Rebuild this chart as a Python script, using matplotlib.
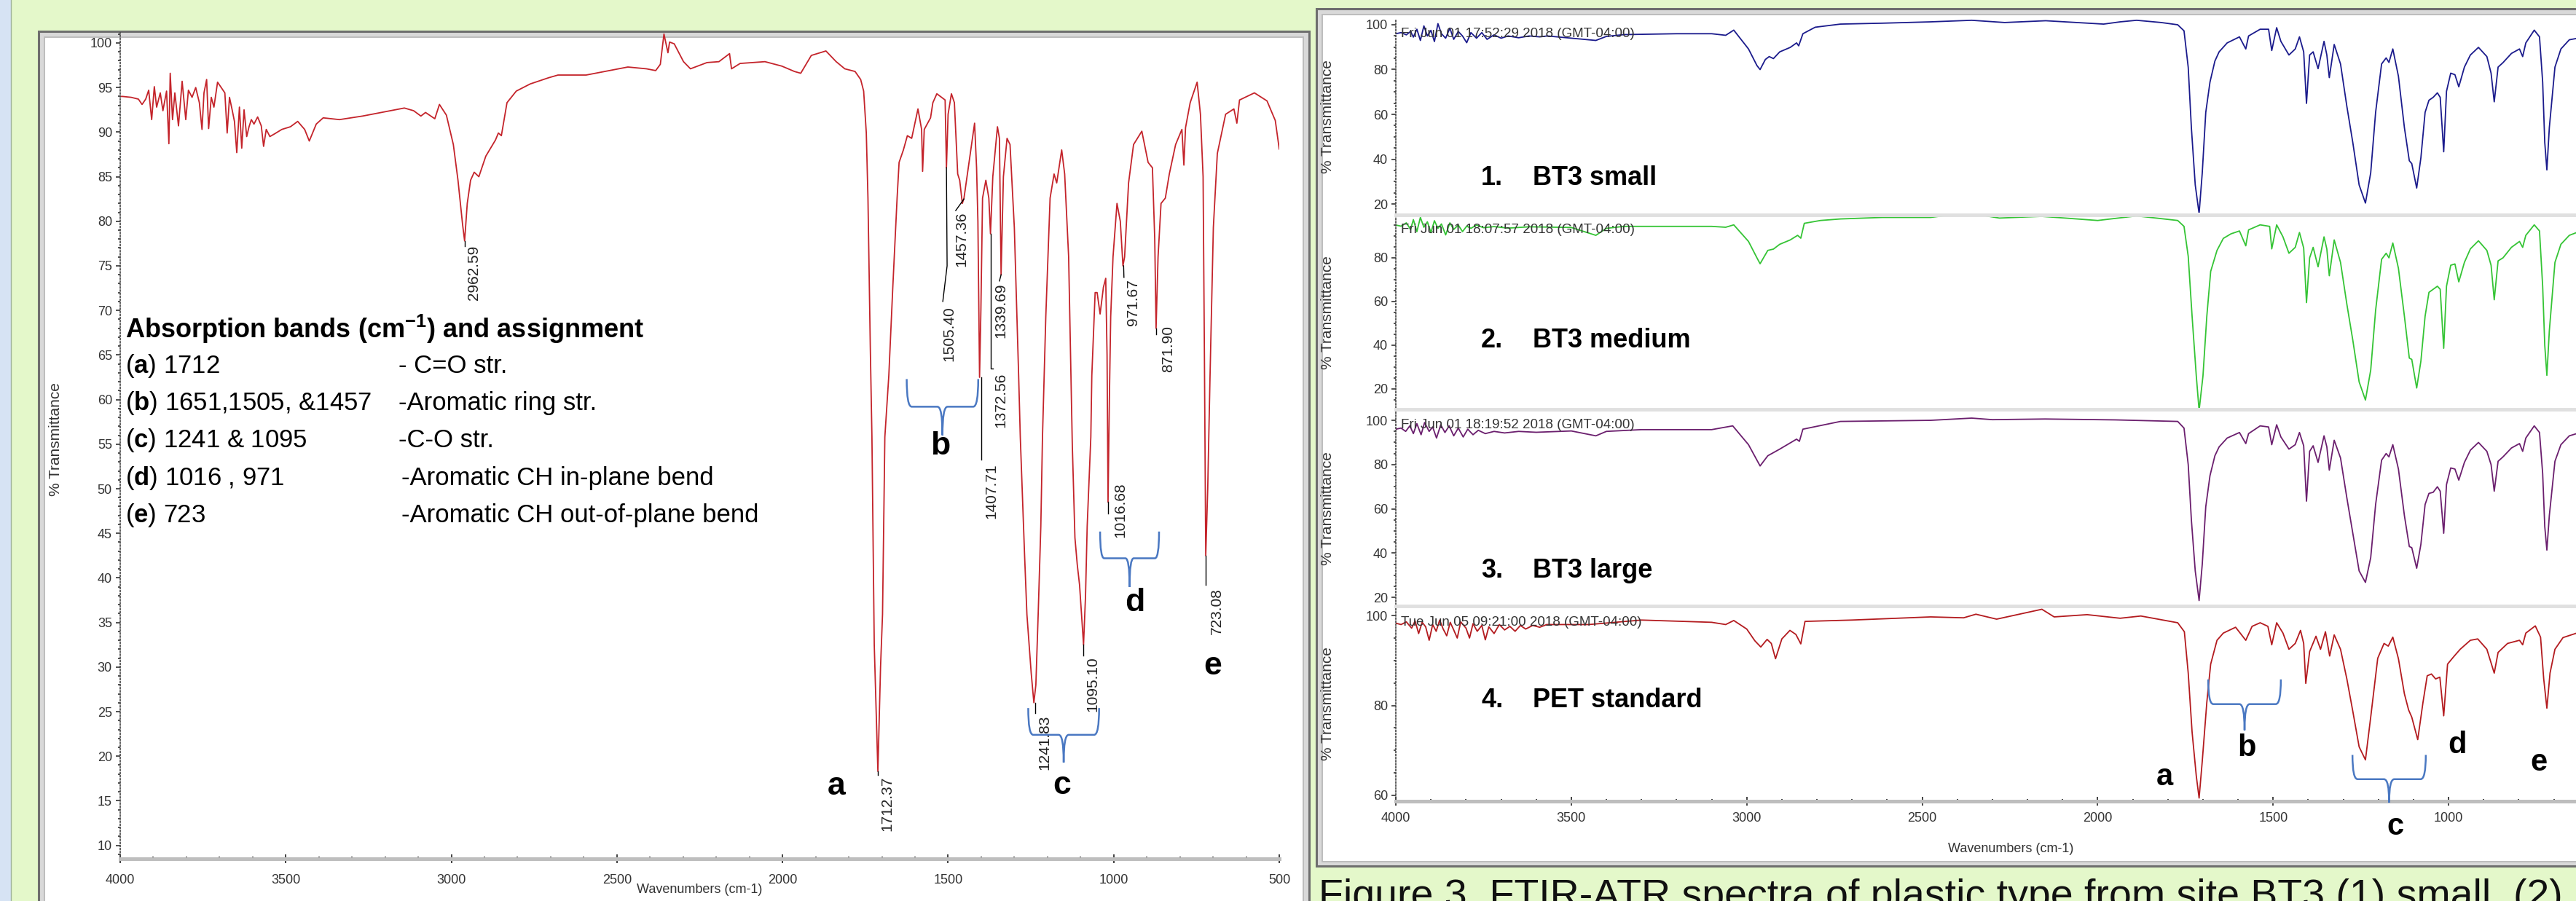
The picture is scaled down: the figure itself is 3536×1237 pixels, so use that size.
import matplotlib.pyplot as plt
from matplotlib.patches import Rectangle, PathPatch
from matplotlib.path import Path
from matplotlib.lines import Line2D
from matplotlib.ticker import MultipleLocator, FixedLocator

W, H = 3537, 1237

# ---------------- data ----------------
# left panel: PET spectrum with peak picks
left_wn = [4000, 3993, 3967, 3945, 3934, 3923, 3914, 3905, 3897, 3890, 3879, 3871, 3860, 3853, 3849,
           3842, 3835, 3824, 3813, 3802, 3794, 3783, 3772, 3761, 3753, 3747, 3739, 3733, 3725, 3717,
           3706, 3695, 3684, 3677, 3670, 3662, 3655, 3648, 3640, 3633, 3626, 3618, 3611, 3604, 3596,
           3585, 3574, 3567, 3559, 3548, 3534, 3512, 3486, 3464, 3443, 3429, 3408, 3387, 3338, 3268,
           3198, 3142, 3114, 3092, 3078, 3050, 3036, 3015, 2994, 2980, 2966, 2960, 2952, 2942, 2931,
           2917, 2896, 2867, 2858, 2849, 2832, 2804, 2762, 2706, 2678, 2593, 2537, 2467, 2411, 2383,
           2369, 2358, 2346, 2341, 2327, 2299, 2278, 2228, 2192, 2160, 2154, 2128, 2053, 2002, 1964,
           1945, 1913, 1869, 1838, 1812, 1781, 1764, 1755, 1747, 1742, 1735, 1730, 1723, 1712, 1704,
           1698, 1691, 1679, 1667, 1654, 1648, 1635, 1623, 1610, 1591, 1580, 1577, 1572, 1553, 1546,
           1534, 1509, 1505, 1500, 1490, 1481, 1471, 1465, 1457, 1452, 1439, 1420, 1414, 1410, 1405,
           1401, 1396, 1386, 1377, 1372, 1365, 1351, 1345, 1340, 1333, 1322, 1313, 1300, 1287, 1282,
           1269, 1262, 1249, 1241, 1235, 1228, 1220, 1215, 1205, 1192, 1180, 1172, 1165, 1157, 1148,
           1136, 1125, 1117, 1110, 1103, 1097, 1091, 1085, 1080, 1069, 1066, 1056, 1050, 1041, 1031,
           1024, 1020, 1017, 1013, 1009, 1002, 990, 980, 972, 967, 955, 940, 915, 896, 883,
           876, 872, 866, 857, 844, 832, 813, 794, 788, 783, 769, 748, 738, 730, 726,
           722, 716, 709, 699, 687, 662, 637, 628, 620, 575, 537, 512, 500]
left_T = [94.0, 94.0, 93.9, 93.7, 93.1, 93.7, 94.7, 91.4, 95.1, 92.8, 94.4, 92.4, 94.6, 88.7, 96.6,
          91.4, 94.4, 90.7, 95.7, 91.4, 94.7, 93.9, 95.0, 93.3, 90.3, 94.4, 95.9, 90.4, 93.9, 92.8,
          95.6, 95.0, 94.4, 89.9, 93.9, 92.5, 91.2, 87.7, 92.8, 88.2, 92.5, 89.5, 90.6, 91.4, 90.9,
          91.7, 90.7, 88.4, 90.3, 89.5, 89.8, 90.3, 90.6, 91.2, 90.3, 89.0, 90.9, 91.6, 91.4, 91.8,
          92.3, 92.7, 92.4, 91.8, 92.2, 91.5, 93.1, 91.9, 88.6, 84.6, 79.6, 77.8, 82.0, 84.6, 85.5,
          85.0, 87.3, 89.1, 89.9, 89.6, 93.3, 94.6, 95.4, 96.1, 96.4, 96.4, 96.8, 97.3, 97.1, 96.9,
          97.6, 101.0, 98.9, 100.1, 99.9, 97.9, 97.1, 97.8, 97.9, 98.8, 97.1, 97.7, 97.9, 97.4, 96.8,
          96.6, 98.6, 99.1, 97.9, 97.1, 96.8, 95.9, 94.6, 89.9, 82.6, 66.0, 55.8, 32.5, 18.3, 30.0,
          35.9, 55.8, 62.7, 72.6, 82.6, 86.6, 88.0, 89.6, 89.3, 92.6, 90.3, 85.6, 90.3, 91.6, 93.3,
          94.3, 93.6, 86.0, 92.0, 94.3, 93.3, 85.3, 84.6, 82.0, 82.6, 86.0, 91.0, 86.0, 80.0, 62.5,
          70.0, 82.6, 84.6, 82.6, 78.6, 85.0, 90.6, 89.3, 74.0, 85.0, 89.3, 88.6, 79.3, 62.7, 55.8,
          42.5, 35.9, 29.3, 26.0, 28.0, 35.9, 45.8, 55.8, 69.3, 82.6, 85.3, 84.3, 86.0, 88.0, 85.3,
          76.0, 55.0, 44.5, 41.5, 39.2, 35.9, 32.5, 38.0, 45.8, 55.8, 62.7, 72.0, 72.0, 69.6, 72.6,
          73.6, 65.0, 48.5, 60.0, 69.3, 76.0, 82.0, 80.0, 75.0, 76.0, 84.3, 88.6, 90.1, 86.6, 86.0,
          78.0, 68.0, 76.0, 82.0, 82.6, 85.3, 88.6, 90.3, 86.3, 90.5, 93.3, 95.6, 92.0, 85.0, 65.0,
          42.5, 50.0, 62.7, 79.3, 87.6, 92.0, 92.6, 91.0, 93.6, 94.4, 93.5, 91.3, 88.1]

# peak picks: (label, x of text, top of text)
pick_labels = ['2962.59', '1712.37', '1505.40', '1457.36', '1339.69', '1372.56', '1407.71',
               '1241.83', '1095.10', '1016.68', '971.67', '871.90', '723.08']
pick_x = [2931, 1683, 1496, 1460, 1341, 1341, 1370, 1208, 1064, 980, 941, 836, 689]
pick_top = [77.3, 17.8, 70.5, 81.1, 73.1, 63.0, 52.8, 24.6, 31.2, 50.7, 73.5, 68.3, 38.9]

# right panels: four samples
s1_wn = [4000, 3985, 3970, 3958, 3950, 3940, 3930, 3920, 3910, 3900, 3890, 3880, 3870, 3858, 3846,
         3835, 3822, 3810, 3798, 3786, 3770, 3755, 3740, 3720, 3700, 3680, 3650, 3620, 3590, 3568,
         3430, 3400, 3350, 3200, 3100, 3060, 3037, 2995, 2971, 2962, 2947, 2936, 2924, 2906, 2876,
         2858, 2852, 2840, 2805, 2733, 2614, 2476, 2359, 2265, 2148, 1983, 1936, 1889, 1819, 1772,
         1754, 1742, 1733, 1722, 1711, 1702, 1692, 1680, 1666, 1654, 1631, 1596, 1578, 1570, 1537,
         1513, 1504, 1490, 1478, 1455, 1437, 1425, 1413, 1405, 1396, 1386, 1372, 1355, 1347, 1340,
         1326, 1308, 1290, 1273, 1255, 1237, 1222, 1208, 1191, 1178, 1170, 1159, 1143, 1126, 1112,
         1105, 1091, 1079, 1067, 1056, 1044, 1032, 1024, 1014, 1006, 994, 982, 971, 955, 938,
         915, 891, 879, 870, 859, 845, 821, 798, 789, 780, 756, 741, 732, 726, 720,
         713, 697, 680, 656, 635, 600, 550]
s1_T = [96.0, 96.5, 95.5, 97.0, 94.5, 98.0, 93.0, 99.5, 95.0, 97.5, 92.5, 100.5, 96.0, 94.0, 98.5,
        93.5, 97.0, 95.0, 92.0, 96.5, 94.0, 96.5, 93.5, 95.5, 94.0, 95.0, 94.2, 95.0, 94.6, 95.0,
        93.0, 94.8, 95.6, 96.0, 96.0, 95.3, 97.6, 89.2, 81.8, 80.0, 84.5, 85.8, 84.9, 87.9, 89.9,
        91.9, 90.6, 96.0, 98.9, 100.3, 100.7, 101.3, 102.0, 101.0, 101.8, 100.3, 101.3, 102.0, 101.0, 100.0,
        97.3, 81.0, 54.0, 28.5, 15.7, 33.9, 60.9, 74.4, 83.8, 87.9, 91.9, 94.6, 89.2, 95.0, 98.0,
        98.0, 88.5, 98.7, 92.6, 86.5, 89.2, 94.6, 87.9, 64.9, 86.5, 87.9, 80.4, 92.6, 86.5, 76.4,
        91.2, 82.5, 63.6, 47.4, 28.5, 20.4, 33.9, 60.9, 82.5, 85.2, 83.2, 89.2, 77.0, 54.1, 39.3,
        38.0, 27.1, 40.6, 60.9, 66.3, 67.6, 69.6, 67.6, 43.3, 70.3, 78.4, 77.7, 72.3, 81.1, 86.5,
        89.9, 85.8, 78.4, 65.6, 81.1, 83.1, 87.2, 89.2, 85.8, 91.9, 97.6, 94.6, 74.4, 47.4, 35.2,
        54.1, 81.1, 89.2, 93.3, 93.9, 93.5, 92.0]

s2_wn = [4000, 3985, 3970, 3958, 3950, 3940, 3930, 3920, 3910, 3900, 3890, 3880, 3870, 3858, 3846,
         3835, 3822, 3810, 3798, 3786, 3770, 3750, 3720, 3680, 3620, 3500, 3430, 3400, 3350, 3100,
         3060, 3037, 2995, 2971, 2962, 2940, 2924, 2906, 2876, 2855, 2846, 2836, 2790, 2733, 2614,
         2476, 2359, 2340, 2280, 2160, 2000, 1889, 1772, 1754, 1742, 1731, 1719, 1711, 1700, 1689,
         1678, 1660, 1642, 1620, 1596, 1578, 1570, 1537, 1510, 1504, 1490, 1472, 1455, 1437, 1425,
         1413, 1405, 1396, 1386, 1372, 1355, 1347, 1340, 1326, 1308, 1290, 1273, 1255, 1237, 1222,
         1208, 1191, 1178, 1170, 1159, 1143, 1126, 1112, 1105, 1091, 1079, 1067, 1056, 1044, 1032,
         1024, 1014, 1006, 994, 982, 971, 955, 938, 915, 891, 879, 870, 859, 845, 821,
         798, 789, 780, 756, 741, 732, 726, 720, 713, 697, 680, 656, 635, 600, 550]
s2_T = [95.0, 94.5, 96.0, 93.0, 97.5, 92.0, 98.5, 94.0, 96.5, 91.5, 97.0, 93.5, 95.5, 90.5, 96.0,
        93.0, 95.0, 92.0, 94.5, 93.5, 95.0, 93.8, 94.3, 93.6, 94.2, 93.9, 90.3, 93.5, 94.4, 94.4,
        94.0, 95.1, 87.5, 80.0, 77.3, 83.4, 84.0, 86.2, 88.2, 90.3, 89.0, 95.8, 97.1, 97.8, 98.5,
        98.5, 101.0, 99.8, 98.2, 99.0, 97.1, 99.2, 97.1, 94.4, 80.7, 53.3, 25.9, 10.1, 25.9, 53.3,
        73.8, 83.4, 88.9, 91.0, 92.3, 85.5, 92.8, 95.1, 94.4, 84.1, 95.1, 89.6, 82.1, 84.8, 91.6,
        84.5, 59.5, 80.0, 84.8, 75.9, 89.6, 84.0, 71.8, 88.2, 77.9, 58.8, 42.3, 23.2, 14.9, 28.6,
        56.0, 79.3, 82.1, 80.0, 86.8, 75.2, 53.3, 34.1, 33.5, 20.4, 32.7, 53.3, 64.2, 65.6, 67.0,
        65.6, 38.6, 67.0, 76.6, 77.2, 69.0, 77.9, 84.1, 87.8, 83.4, 76.6, 60.8, 78.6, 80.0, 84.8,
        87.5, 84.8, 90.3, 95.1, 92.3, 67.0, 39.9, 26.2, 46.6, 77.9, 86.2, 90.3, 91.6, 91.0, 90.0]

s3_wn = [4000, 3985, 3972, 3960, 3950, 3940, 3928, 3918, 3905, 3895, 3884, 3872, 3860, 3848, 3835,
         3822, 3808, 3795, 3780, 3765, 3745, 3720, 3690, 3650, 3600, 3500, 3430, 3400, 3300, 3100,
         3040, 2995, 2962, 2940, 2906, 2858, 2850, 2840, 2733, 2476, 2359, 2300, 2150, 1950, 1772,
         1754, 1742, 1733, 1722, 1711, 1702, 1692, 1680, 1666, 1654, 1631, 1596, 1578, 1570, 1537,
         1513, 1504, 1490, 1478, 1455, 1437, 1425, 1413, 1405, 1396, 1386, 1372, 1355, 1347, 1340,
         1326, 1308, 1290, 1273, 1255, 1237, 1222, 1208, 1191, 1178, 1170, 1159, 1143, 1126, 1112,
         1105, 1091, 1079, 1067, 1056, 1044, 1032, 1024, 1014, 1006, 994, 982, 971, 955, 938,
         915, 891, 879, 870, 859, 845, 821, 798, 789, 780, 756, 741, 732, 726, 720,
         713, 697, 680, 656, 635, 600, 550]
s3_T = [96.0, 96.5, 95.0, 97.5, 94.0, 98.5, 93.5, 99.0, 95.0, 97.0, 92.0, 98.0, 94.5, 97.5, 93.0,
        96.5, 92.5, 96.0, 93.5, 95.5, 94.0, 95.0, 94.3, 95.0, 94.6, 95.2, 93.0, 95.0, 95.8, 95.8,
        97.5, 89.0, 79.4, 84.0, 87.0, 91.5, 90.5, 96.0, 99.5, 100.0, 101.0, 100.3, 100.6, 100.2, 99.5,
        96.5, 80.0, 55.0, 32.0, 18.6, 35.0, 61.0, 75.0, 84.0, 88.0, 92.0, 94.5, 89.5, 94.0, 97.5,
        97.0, 89.0, 98.0, 92.5, 87.0, 89.0, 94.5, 88.5, 63.5, 86.0, 88.5, 81.0, 93.0, 88.0, 77.5,
        91.0, 83.0, 65.0, 49.0, 32.0, 26.8, 38.0, 62.0, 82.0, 85.0, 83.5, 89.0, 78.0, 57.0, 43.0,
        42.5, 33.2, 44.0, 62.0, 67.0, 67.5, 70.0, 68.0, 49.0, 71.0, 78.5, 78.0, 73.0, 81.0, 86.5,
        90.0, 86.0, 80.0, 68.0, 81.5, 83.5, 87.5, 89.5, 86.0, 92.0, 97.5, 94.5, 76.0, 52.0, 41.4,
        57.0, 81.5, 89.0, 93.0, 94.0, 93.5, 92.0]

s4_wn = [4000, 3985, 3970, 3955, 3945, 3935, 3925, 3915, 3905, 3895, 3885, 3875, 3865, 3855, 3845,
         3835, 3825, 3815, 3800, 3790, 3780, 3768, 3755, 3745, 3735, 3720, 3705, 3690, 3675, 3660,
         3645, 3630, 3610, 3590, 3570, 3500, 3450, 3300, 3100, 3060, 3037, 3000, 2977, 2960, 2942,
         2930, 2918, 2900, 2877, 2860, 2846, 2834, 2700, 2476, 2382, 2347, 2288, 2159, 2124, 2030,
         1936, 1877, 1772, 1753, 1742, 1731, 1719, 1711, 1702, 1689, 1678, 1660, 1642, 1607, 1578,
         1560, 1537, 1515, 1504, 1490, 1472, 1455, 1437, 1422, 1413, 1407, 1396, 1378, 1365, 1351,
         1339, 1326, 1308, 1290, 1273, 1255, 1237, 1222, 1202, 1184, 1172, 1159, 1143, 1126, 1114,
         1105, 1088, 1073, 1061, 1049, 1037, 1025, 1014, 1003, 986, 967, 938, 917, 891, 870,
         859, 832, 798, 789, 780, 753, 738, 729, 720, 711, 697, 674, 635, 600, 550]
s4_T = [98.3, 98.0, 98.6, 97.2, 98.8, 96.0, 98.5, 97.5, 94.5, 98.0, 96.5, 99.0, 97.0, 95.5, 98.5,
        96.8, 95.0, 98.6, 97.2, 95.0, 98.2, 96.5, 97.8, 94.6, 97.5, 96.0, 98.0, 96.8, 97.6, 96.5,
        97.8, 97.0, 97.8, 97.4, 98.0, 98.0, 98.0, 99.0, 98.5, 98.0, 98.9, 97.0, 94.4, 93.0, 94.7,
        93.8, 90.4, 94.8, 96.7, 95.8, 93.7, 98.7, 99.0, 99.7, 99.5, 100.3, 99.2, 101.4, 99.7, 100.2,
        99.4, 99.9, 98.4, 96.4, 87.2, 74.1, 64.3, 59.4, 67.6, 80.7, 89.2, 94.5, 96.1, 97.4, 94.5,
        97.6, 98.4, 97.6, 93.5, 98.4, 96.1, 92.5, 93.8, 96.7, 93.8, 84.9, 92.0, 95.4, 92.5, 96.4,
        91.0, 95.7, 92.5, 85.9, 78.7, 70.8, 67.9, 77.4, 90.5, 93.8, 93.2, 95.2, 90.4, 82.6, 79.0,
        77.4, 72.4, 80.7, 86.6, 87.0, 85.9, 86.3, 77.7, 89.2, 90.8, 92.5, 94.5, 94.8, 92.5, 87.2,
        91.8, 93.8, 94.5, 93.5, 96.1, 97.7, 95.2, 85.9, 79.4, 87.2, 92.5, 95.1, 96.1, 95.5, 94.5]

sample_names = ['BT3 small', 'BT3 medium', 'BT3 large', 'PET standard']
sample_dates = ['Fri Jun 01 17:52:29 2018 (GMT-04:00)', 'Fri Jun 01 18:07:57 2018 (GMT-04:00)',
                'Fri Jun 01 18:19:52 2018 (GMT-04:00)', 'Tue Jun 05 09:21:00 2018 (GMT-04:00)']
sample_colors = ['#1B1B8C', '#35C435', '#6B1F6E', '#B31B1F']

band_lines = [('a', '1712', '- C=O str.'),
              ('b', '1651,1505, &1457', '-Aromatic ring str.'),
              ('c', '1241 & 1095', '-C-O str.'),
              ('d', '1016 , 971', '-Aromatic CH in-plane bend'),
              ('e', '723', '-Aromatic CH out-of-plane bend')]

# ---------------- figure ----------------
plt.rcParams['font.family'] = ['Liberation Sans', 'DejaVu Sans']
plt.rcParams['mathtext.fontset'] = 'custom'
plt.rcParams['mathtext.rm'] = 'Liberation Sans'
plt.rcParams['mathtext.bf'] = 'Liberation Sans:bold'

fig = plt.figure(figsize=(W / 100, H / 100), dpi=100)
fig.patch.set_facecolor('#E4F8CA')


def box(x0, y0, x1, y1):
    return [x0 / W, 1 - y1 / H, (x1 - x0) / W, (y1 - y0) / H]


def prect(x0, y0, x1, y1, **kw):
    fig.add_artist(Rectangle((x0 / W, 1 - y1 / H), (x1 - x0) / W, (y1 - y0) / H,
                             transform=fig.transFigure, **kw))


def pline(xs, ys, **kw):
    fig.add_artist(Line2D([x / W for x in xs], [1 - y / H for y in ys],
                          transform=fig.transFigure, **kw))


def ptext(x, y, s, **kw):
    fig.text(x / W, 1 - y / H, s, **kw)


def brace(ax, x0, x1, ytop, ymid, ytip, color='#4A78C2'):
    xc = (x0 + x1) / 2
    d = (x1 - x0) * 0.07
    verts = [(x0, ytop), (x0, ymid), (x0 + d, ymid), (xc - d, ymid), (xc, ymid), (xc, ytip),
             (xc, ymid), (xc + d, ymid), (x1 - d, ymid), (x1, ymid), (x1, ytop)]
    codes = [Path.MOVETO, Path.CURVE3, Path.CURVE3, Path.LINETO, Path.CURVE3, Path.CURVE3,
             Path.CURVE3, Path.CURVE3, Path.LINETO, Path.CURVE3, Path.CURVE3]
    ax.add_patch(PathPatch(Path(verts, codes), fc='none', ec=color, lw=1.8, clip_on=False, zorder=5))


def style(ax, major, minor, pad_x=None, xmajor=None):
    ax.set_facecolor('none')
    for s in ['top', 'right']:
        ax.spines[s].set_visible(False)
    ax.spines['left'].set_color('#444444')
    ax.spines['left'].set_linestyle((0, (1, 1.5)))
    ax.spines['left'].set_linewidth(1.2)
    ax.yaxis.set_major_locator(MultipleLocator(major))
    ax.yaxis.set_minor_locator(MultipleLocator(minor))
    ax.tick_params(axis='y', which='major', length=4, width=1.2, color='#333333',
                   labelsize=13, labelcolor='#333333', pad=4)
    ax.tick_params(axis='y', which='minor', length=2, width=1.2, color='#333333')
    if pad_x is None:
        ax.spines['bottom'].set_visible(False)
        ax.tick_params(axis='x', which='both', bottom=False, labelbottom=False)
    else:
        ax.spines['bottom'].set_color('#BEBEBE')
        ax.spines['bottom'].set_linewidth(3.6)
        if xmajor is None:
            ax.xaxis.set_major_locator(MultipleLocator(500))
        else:
            ax.xaxis.set_major_locator(FixedLocator(xmajor))
        ax.xaxis.set_minor_locator(MultipleLocator(100))
        ax.tick_params(axis='x', which='major', direction='inout', length=8, width=1.2,
                       color='#222222', labelsize=13, labelcolor='#333333', pad=pad_x)
        ax.tick_params(axis='x', which='minor', direction='inout', length=4, width=1.2,
                       color='#222222')


# background pieces
prect(0, 0, 15, H, fc='#D6E3F4', ec='none', zorder=-10)
pline([15, 15], [0, H], color='#9FB39A', lw=1, zorder=-10)
prect(53, 43, 1797, 1320, fc='#D9D9D9', ec='#6E6E6E', lw=2.2, zorder=-9)
prect(61, 51, 1789, 1320, fc='white', ec='#BDBDBD', lw=1.4, zorder=-8)
prect(1807, 12, 3640, 1189, fc='#D9D9D9', ec='#6E6E6E', lw=2.2, zorder=-9)
prect(1815, 20, 3640, 1183, fc='white', ec='#BDBDBD', lw=1.4, zorder=-8)

# ---------------- left panel ----------------
axL = fig.add_axes(box(165, 45, 1756, 1179))
axL.plot(left_wn, left_T, color='#C4242B', lw=1.3)
axL.set_xlim(4000, 500)
axL.set_ylim(8.5, 101.14)
style(axL, 5, 1, pad_x=11)

leaders = [([2959, 2959], [77.8, 77.2]), ([1712, 1712], [18.3, 17.9]),
           ([1505, 1503, 1516], [86.0, 75.0, 71.0]), ([1452, 1477], [82.5, 81.2]),
           ([1400, 1400], [62.5, 53.3]), ([1372, 1372, 1365], [78.6, 63.5, 63.5]),
           ([1340, 1345], [74.0, 73.3]), ([1237, 1237], [26.0, 24.8]),
           ([1091, 1091], [32.5, 31.3]), ([1017, 1017], [48.5, 47.2]),
           ([970, 969], [75.0, 73.7]), ([872, 872], [68.0, 67.3]), ([722, 722], [42.5, 39.2])]
for lx, ly in leaders:
    axL.plot(lx, ly, color='black', lw=1.0)
for s, x, yt in zip(pick_labels, pick_x, pick_top):
    axL.text(x, yt, s, rotation=90, ha='center', va='top', fontsize=15, color='#222222')

axL.text(3985, 67.9, r'Absorption bands (cm$^{\mathbf{-1}}$) and assignment', fontsize=26,
         fontweight='bold', va='center', ha='left')
for i, (k, num, desc) in enumerate(band_lines):
    yy = 63.8 - 4.2 * i
    axL.text(3985, yy, r'($\mathbf{%s}$) %s' % (k, num), fontsize=25, va='center', ha='left')
    axL.text(3160 if i < 3 else 3150, yy, desc, fontsize=25, va='center', ha='left')

for k, x, y in [('a', 1837, 16.6), ('b', 1524, 54.8), ('c', 1156, 16.7), ('d', 936, 37.2),
                ('e', 700, 30.1)]:
    axL.text(x, y, k, fontsize=32, fontweight='bold', ha='center', va='center')
brace(axL, 1625, 1409, 62.3, 59.2, 56.0)
brace(axL, 1258, 1044, 25.4, 22.4, 19.3)
brace(axL, 1041, 863, 45.2, 42.2, 39.0)

ptext(77, 603, '% Transmittance', rotation=90, ha='center', va='center', fontsize=15, color='#333333')
ptext(960, 1222, 'Wavenumbers (cm-1)', ha='center', va='center', fontsize=13, color='#333333')

# ---------------- right panels ----------------
panel_px = [(26, 292), (297, 560), (564, 830), (834, 1100)]
panel_ylim = [(16.1, 102.6), (11.3, 99.0), (16.8, 104.3), (58.7, 101.8)]
label_y = [31.4, 42.0, 32.2, 81.1]
date_y = [95.8, 92.7, 98.0, 98.5]
ylabel_px = [160, 429, 698, 966]
series = [(s1_wn, s1_T), (s2_wn, s2_T), (s3_wn, s3_T), (s4_wn, s4_T)]

axes_r = []
for i in range(4):
    y0, y1 = panel_px[i]
    ax = fig.add_axes(box(1916, y0, 3602, y1))
    wn, T = series[i]
    ax.plot(wn, T, color=sample_colors[i], lw=1.3)
    ax.set_xlim(4000, 500)
    ax.set_ylim(*panel_ylim[i])
    if i == 3:
        style(ax, 20, 5, pad_x=7, xmajor=[4000, 3500, 3000, 2500, 2000, 1500, 1000])
    else:
        style(ax, 20, 5)
    ax.text(3985, date_y[i], sample_dates[i], fontsize=13.5, color='#333333', va='center', ha='left')
    ax.text(3757, label_y[i], '%d.' % (i + 1), fontsize=26, fontweight='bold', va='center', ha='left')
    ax.text(3610, label_y[i], sample_names[i], fontsize=26, fontweight='bold', va='center', ha='left')
    ptext(1823, ylabel_px[i], '% Transmittance', rotation=90, ha='center', va='center',
          fontsize=15, color='#333333')
    axes_r.append(ax)

for yy in [294.5, 562, 832]:
    pline([1916, 3537], [yy, yy], color='#E0E0E0', lw=3.5, zorder=2)

ax4 = axes_r[3]
for k, x, y in [('a', 1810, 64.0), ('b', 1575, 70.5), ('c', 1152, 53.1), ('d', 975, 71.1),
                ('e', 743, 67.3)]:
    ax4.text(x, y, k, fontsize=30, fontweight='bold', ha='center', va='center', clip_on=False)
brace(ax4, 1685, 1478, 85.8, 80.3, 74.5)
brace(ax4, 1274, 1065, 69.0, 63.6, 58.4)

ptext(2760, 1165, 'Wavenumbers (cm-1)', ha='center', va='center', fontsize=13, color='#333333')

ptext(1810, 1206, 'Figure 3. FTIR-ATR spectra of plastic type from site BT3 (1) small, (2)',
      fontsize=40, ha='left', va='top', color='#111111')

fig.savefig('out.png', dpi=100, facecolor=fig.get_facecolor())
